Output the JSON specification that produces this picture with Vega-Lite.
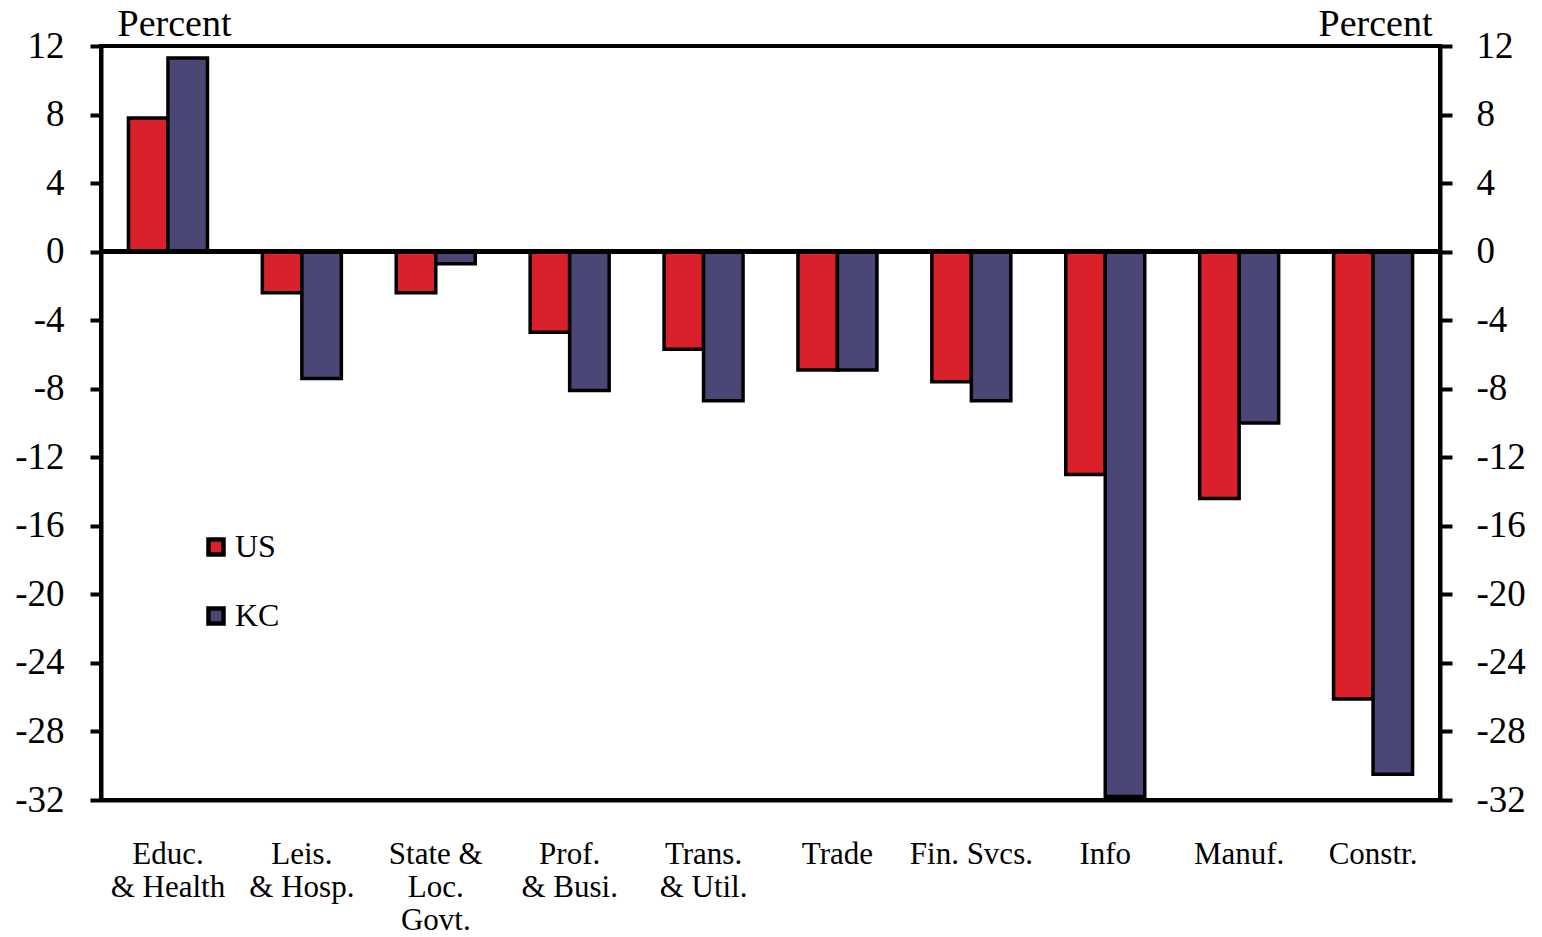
{
  "$schema": "https://vega.github.io/schema/vega-lite/v6.json",
  "width": 1339,
  "height": 754,
  "autosize": {"type": "none"},
  "padding": {"left": 101, "top": 46, "right": 102, "bottom": 137},
  "background": "white",
  "config": {
    "font": "Liberation Serif",
    "view": {"stroke": "black", "strokeWidth": 4},
    "axis": {
      "domainColor": "black",
      "domainWidth": 4,
      "tickColor": "black",
      "tickWidth": 4,
      "labelColor": "black",
      "titleColor": "black",
      "grid": false,
      "labelFont": "Liberation Serif",
      "titleFont": "Liberation Serif",
      "titleFontWeight": "normal"
    }
  },
  "data": {
    "values": [
      {"cat": "Educ.|& Health", "series": "US", "value": 7.8},
      {"cat": "Educ.|& Health", "series": "KC", "value": 11.3},
      {"cat": "Leis.|& Hosp.", "series": "US", "value": -2.4},
      {"cat": "Leis.|& Hosp.", "series": "KC", "value": -7.4},
      {"cat": "State &|Loc.|Govt.", "series": "US", "value": -2.4},
      {"cat": "State &|Loc.|Govt.", "series": "KC", "value": -0.7},
      {"cat": "Prof.|& Busi.", "series": "US", "value": -4.7},
      {"cat": "Prof.|& Busi.", "series": "KC", "value": -8.1},
      {"cat": "Trans.|& Util.", "series": "US", "value": -5.7},
      {"cat": "Trans.|& Util.", "series": "KC", "value": -8.7},
      {"cat": "Trade", "series": "US", "value": -6.9},
      {"cat": "Trade", "series": "KC", "value": -6.9},
      {"cat": "Fin. Svcs.", "series": "US", "value": -7.6},
      {"cat": "Fin. Svcs.", "series": "KC", "value": -8.7},
      {"cat": "Info", "series": "US", "value": -13.0},
      {"cat": "Info", "series": "KC", "value": -31.8},
      {"cat": "Manuf.", "series": "US", "value": -14.4},
      {"cat": "Manuf.", "series": "KC", "value": -10.0},
      {"cat": "Constr.", "series": "US", "value": -26.1},
      {"cat": "Constr.", "series": "KC", "value": -30.5}
    ]
  },
  "layer": [
    {
      "mark": {"type": "bar", "stroke": "black", "strokeWidth": 3.5},
      "encoding": {
        "x": {
          "field": "cat",
          "type": "nominal",
          "sort": null,
          "scale": {"paddingInner": 0.41, "paddingOuter": 0.205},
          "axis": {
            "title": null,
            "orient": "bottom",
            "ticks": false,
            "labelAngle": 0,
            "labelFontSize": 31,
            "labelLineHeight": 33,
            "labelBaseline": "top",
            "labelPadding": 39,
            "labelExpr": "split(datum.label, '|')"
          }
        },
        "xOffset": {
          "field": "series",
          "type": "nominal",
          "sort": ["US", "KC"],
          "scale": {"paddingInner": 0, "paddingOuter": 0}
        },
        "y": {
          "field": "value",
          "type": "quantitative",
          "scale": {"domain": [-32, 12], "nice": false, "zero": false},
          "axis": {
            "orient": "left",
            "values": [-32, -28, -24, -20, -16, -12, -8, -4, 0, 4, 8, 12],
            "labelExpr": "'' + datum.value",
            "tickSize": 11,
            "labelFontSize": 37,
            "labelPadding": 26,
            "title": "Percent",
            "titleAngle": 0,
            "titleX": 16,
            "titleY": -11,
            "titleAlign": "left",
            "titleBaseline": "alphabetic",
            "titleFontSize": 38
          }
        },
        "fill": {
          "field": "series",
          "type": "nominal",
          "sort": ["US", "KC"],
          "scale": {"domain": ["US", "KC"], "range": ["#DA202B", "#4A4675"]},
          "legend": {
            "title": null,
            "orient": "none",
            "legendX": 99,
            "legendY": 485,
            "symbolType": "square",
            "symbolSize": 225,
            "symbolStrokeColor": "black",
            "symbolStrokeWidth": 4.5,
            "symbolOpacity": 1,
            "labelFontSize": 32,
            "labelFont": "Liberation Serif",
            "labelColor": "black",
            "labelOffset": 3,
            "rowPadding": 35
          }
        }
      }
    },
    {
      "mark": {"type": "rule", "color": "black", "strokeWidth": 4},
      "encoding": {
        "y": {
          "datum": 0,
          "type": "quantitative",
          "axis": {
            "orient": "right",
            "values": [-32, -28, -24, -20, -16, -12, -8, -4, 0, 4, 8, 12],
            "labelExpr": "'' + datum.value",
            "tickSize": 12,
            "labelFontSize": 37,
            "labelPadding": 24,
            "title": "Percent",
            "titleAngle": 0,
            "titleX": -8,
            "titleY": -11,
            "titleAlign": "right",
            "titleBaseline": "alphabetic",
            "titleFontSize": 38
          }
        }
      }
    }
  ],
  "resolve": {"axis": {"y": "independent"}}
}
